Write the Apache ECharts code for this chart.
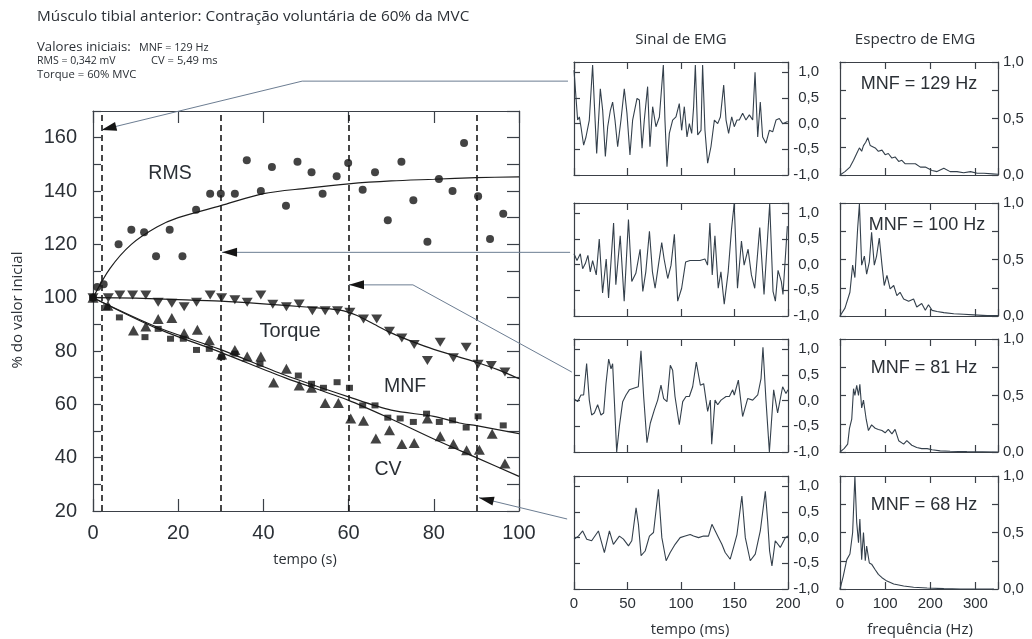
<!DOCTYPE html>
<html><head><meta charset="utf-8">
<script src="https://cdn.jsdelivr.net/npm/echarts/dist/echarts.min.js"></script>
<style>html,body{margin:0;padding:0;background:#fff}#c{width:1032px;height:639px}</style>
</head><body><div id="c"></div><script>
// ---------------- DATA ----------------
const rmsPoints = [[0,100],[1,104],[2.5,105],[6,120],[9,125.5],[12,124.5],[14.8,115.5],[18,125.5],[21,115.5],[24.2,133],[27.5,139],[30,139],[33.3,139],[36.1,151.5],[39.4,140],[42,149],[45.3,134.5],[48,151],[51.3,147],[53.9,139],[57.2,145.5],[59.9,150.5],[63.3,140.5],[66.2,147],[69.2,129],[72.4,151],[75.2,136.5],[78.5,121],[81.2,144.5],[84.4,140],[87.1,158],[90.4,138],[93.2,122],[96.3,131.5]];
const torquePoints = [[0,100],[3.6,100],[6.3,101],[9.3,101],[12.4,101],[15.3,98.3],[18.5,97.9],[21.4,96.6],[24.3,98.3],[27.5,101],[30.2,100],[33.3,99.2],[36.2,98.3],[39.4,101],[42.2,97.5],[45.4,96.6],[48.4,97.6],[51.5,95.1],[54.5,95.1],[57.4,95.1],[60.3,94.5],[63.5,92],[66.6,92],[69.6,87.4],[72.5,84.9],[75.4,82.4],[78.5,76.4],[81.5,83.3],[84.6,77.5],[87.6,81.4],[90.4,75],[93.5,74.6],[96.7,72.1]];
const mnfPoints = [[0,100],[3.2,96.4],[6.2,92.6],[12.2,85.2],[15.3,88.3],[18.2,84.6],[21.2,84.6],[24.3,80.4],[27.3,80.8],[30.2,77.7],[33.3,79],[39.2,75.2],[48.2,70.8],[51.3,67.7],[54.1,66.2],[57.3,68.3],[60.2,66.2],[63.3,59.6],[66.2,59.6],[69.2,55],[72.1,54.7],[75.2,53.4],[78.3,56.5],[81.3,53.4],[84.4,54],[87.6,51.3],[90.4,55.5],[96.3,52.1]];
const cvPoints = [[0,100],[3.5,97],[9.5,87.7],[12.4,89.2],[15.3,92],[18.5,92.4],[21.4,86.7],[24.5,88],[27.3,84],[30.2,78.7],[33.3,80.4],[36.2,77.9],[39.4,77.9],[42.4,68.2],[45.4,73.3],[48.4,67.1],[51.3,66.2],[54.5,60.5],[57.6,60.5],[60.5,54.7],[63.5,53.8],[66.4,47.2],[69.6,50.3],[72.5,45.1],[75.4,45.5],[78.5,54.7],[81.5,48],[84.6,45.1],[87.7,42.8],[90.7,43],[93.7,49],[96.7,37.8]];

const rmsFit = [[0,100],[4,111],[9,120],[15,126.5],[20,130],[30,134.5],[40,139],[50,141],[60,142.7],[70,143.8],[80,144.4],[90,145],[100,145.3]];
const torqueFit = [[0,100],[10,99.8],[20,99.3],[30,98.7],[40,97.7],[50,96.5],[58,95.3],[62,93.3],[66,90],[70,86.8],[75,83.5],[80,80.6],[86,77.7],[90,75.8],[95,73],[100,69.6]];
const mnfFit = [[0,100],[15,89],[30,80.5],[45,71],[60,62.8],[70,57.8],[80,55.5],[86,53],[90,52],[100,49]];
const cvFit = [[0,100],[15,88.5],[30,79.5],[45,70],[60,61.5],[70,54.5],[80,47],[90,40],[100,33]];

const epochMarks = [2, 30, 60, 90];
const xTicksMain = [0, 100, 20];      // min, max, step
const yTicksMain = [20, 170, 10];

const emg1 = [[0,1.04],[3.4,0.07],[5,0.13],[6.5,-0.06],[9,-0.42],[11.2,-0.26],[14.3,0.07],[17.4,1.14],[19,0.39],[21.2,-0.58],[24.6,0.68],[26.8,0.26],[29.3,-0.64],[31.5,-0.06],[34,0.26],[36.1,0.42],[38.3,0.07],[40.8,-0.45],[43.9,0.07],[47,0.68],[49.5,0.2],[52.3,-0.61],[54.8,0.07],[58.9,0.49],[61.1,0.46],[63.6,-0.48],[65.7,0.07],[68.8,0.72],[71,-0.45],[73.5,0.33],[76.6,-0.06],[79.8,0.13],[83.5,1.14],[85,0.07],[86.9,-0.84],[89.1,-0.19],[92.2,0.07],[95.3,0.13],[98.4,0.39],[100.6,-0.13],[103.1,0.33],[105.6,-0.26],[107.8,0],[110,-0.19],[111.8,0.33],[113.4,1.14],[115.6,-0.22],[118.7,-0.13],[120.2,1.14],[122.4,-0.13],[124.9,-0.77],[128,-0.45],[131.2,0.07],[134.3,0],[136.8,0.13],[139.9,0.75],[142.1,0.07],[144.5,-0.19],[147.4,0.13],[149.8,-0.06],[152.3,0.07],[154.5,0.07],[157.6,0.2],[160.7,0.07],[163.9,0.17],[167,0.07],[169.2,1.0],[171.7,-0.26],[174.1,0.42],[176.3,-0.26],[179.4,-0.38],[182.6,-0.13],[185.7,-0.16],[188.8,0.07],[191.9,0.1],[195,0],[199.7,0.04]];
const emg2 = [[0,0.21],[2.8,0.08],[5.9,0.21],[8.1,-0.08],[10.6,0.02],[13,0.18],[15.2,-0.14],[17.4,0.08],[20.8,-0.2],[23.6,0.5],[26.7,-0.55],[30.1,0.11],[32.3,-0.65],[37,0.81],[39.1,-0.39],[43.2,0.56],[46.9,-0.71],[50.9,0.88],[54,-0.33],[57.8,-0.17],[61.8,0.3],[64.3,-0.52],[67.1,-0.14],[70.5,0.65],[73.3,-0.14],[75.8,-0.46],[78.9,-0.01],[82,0.43],[84.2,0.11],[87.6,-0.27],[90.7,-0.01],[93.8,0.59],[96.9,-0.71],[100.6,-0.46],[104.3,0.05],[108.4,0.08],[113,0.08],[117.7,0.08],[122.4,0.11],[124.8,-0.01],[127,0.81],[129.2,-0.2],[131.7,0.56],[134.8,-0.46],[137.3,-0.14],[140.4,-0.77],[144.1,-0.14],[147.2,0.69],[149.7,1.19],[152.8,-0.46],[156.5,0.46],[159,-0.01],[162.7,0.3],[165.8,-0.2],[168.9,-0.46],[173.6,0.72],[177.6,-0.58],[182.9,1.19],[186,-0.52],[188.2,-0.71],[190.7,-0.11],[193.8,-0.33],[195.3,-0.58],[199.4,0.75]];
const emg3 = [[0,0.04],[3.4,-0.02],[6.5,0.11],[9,0.11],[11.8,0.72],[14.3,0.01],[16.5,-0.28],[19,-0.24],[22.1,-0.08],[25.2,-0.28],[27.7,-0.24],[29.9,0.33],[32.4,0.81],[34.6,0.62],[36.1,0.72],[37.7,0.01],[39.9,-1.0],[42.4,-0.5],[45.5,-0.02],[48.6,0.11],[51.7,0.21],[55.8,0.24],[60.1,0.27],[62.6,0.97],[65.1,0.08],[68.2,-0.82],[71.3,-0.44],[75.1,-0.18],[78.2,0.01],[81.3,0.3],[83.8,0.04],[86.9,-0.02],[90,0.69],[92.2,0.59],[94.4,0.08],[98.4,-0.47],[101.6,-0.02],[104.7,0.08],[107.8,0.08],[110.9,0.27],[114.3,0.75],[118.1,0.3],[121.2,0.33],[124.9,-0.21],[127.4,0.01],[128.7,-0.85],[131.8,0.01],[134.3,-0.08],[137.4,0.01],[142.1,0.08],[145.2,0.08],[148.3,0.21],[149.8,0.11],[153.6,0.4],[157.6,-0.31],[162.3,0.04],[167,0.01],[171.7,0.11],[174.8,0.43],[176.6,1.04],[179.4,0.01],[182.6,-1.0],[186.6,0.21],[190.3,-0.24],[195,0.27],[198.1,0.14],[200,0.21]];
const emg4 = [[0,-0.03],[4.1,0.03],[8.1,0.13],[11.9,-0.03],[16.5,-0.06],[22.8,0.13],[28.4,-0.29],[33.1,0.13],[36.8,-0.13],[42.4,0.03],[46.2,-0.03],[50.9,-0.16],[54,-0.06],[58,0.58],[60.2,0.26],[62.7,-0.35],[66.5,-0.26],[70.5,0.03],[74.3,0.1],[78.9,0.94],[82.1,0],[86.1,-0.45],[89.9,-0.29],[94.5,-0.13],[99.2,0],[103.9,0.03],[108.6,0.06],[111.7,0.03],[116.4,0],[121.1,0.03],[125.7,0.03],[128.9,0.26],[132,0.13],[135.1,0],[138.2,-0.13],[141.3,-0.29],[146,-0.42],[149.1,-0.19],[152.3,0.06],[156.9,0.81],[160.1,0],[164.7,-0.45],[169.4,-0.32],[174.1,0.13],[178.8,0.9],[181,0.32],[182.8,-0.26],[185,-0.55],[188.1,-0.06],[192.8,-0.19],[197.5,0],[200,0.03]];

const spec1 = [[0,0],[11,0.03],[22,0.07],[30,0.13],[37,0.19],[43,0.24],[48,0.21],[52,0.26],[57,0.29],[61.5,0.33],[67,0.26],[70,0.25],[78,0.24],[85,0.21],[93,0.22],[100,0.18],[107,0.19],[115,0.15],[122,0.16],[130,0.12],[137,0.13],[144,0.1],[156,0.1],[167,0.1],[178,0.07],[189,0.07],[204,0.04],[215,0.03],[230,0.06],[244,0.03],[259,0.03],[274,0.02],[289,0.03],[304,0.015],[319,0.015],[337,0.01],[350,0.006]];
const spec2 = [[0,0],[11,0.07],[22,0.21],[28,0.45],[33,0.34],[39,0.77],[43,0.99],[48,0.45],[54,0.53],[59,0.37],[65,0.48],[70,0.74],[76,0.45],[81,0.53],[87,0.69],[93,0.45],[98,0.27],[104,0.36],[111,0.24],[119,0.27],[126,0.18],[133,0.21],[141,0.15],[152,0.13],[163,0.15],[170,0.08],[181,0.11],[189,0.05],[196,0.1],[204,0.05],[215,0.04],[230,0.03],[252,0.02],[274,0.015],[296,0.01],[326,0.003],[350,0.003]];
const spec3 = [[0,0],[9,0.03],[17,0.07],[21,0.21],[26,0.29],[30,0.56],[33,0.5],[37,0.59],[41,0.5],[44,0.6],[48,0.39],[52,0.46],[58,0.29],[63,0.19],[70,0.24],[78,0.21],[85,0.2],[93,0.19],[100,0.17],[107,0.2],[115,0.16],[122,0.2],[130,0.1],[141,0.07],[148,0.1],[159,0.06],[170,0.04],[181,0.03],[193,0.03],[204,0.02],[222,0.01],[244,0.006],[281,0.003],[350,0]];
const spec4 = [[0,0],[7,0.11],[15,0.26],[22,0.31],[28,0.5],[33,1.0],[37,0.59],[41,0.41],[44,0.62],[48,0.26],[52,0.5],[56,0.25],[59,0.38],[65,0.23],[70,0.22],[78,0.17],[85,0.13],[93,0.1],[104,0.07],[119,0.045],[141,0.027],[163,0.015],[193,0.009],[230,0.003],[267,0],[341,0]];

const emgSignals = [emg1, emg2, emg3, emg4];
const spectra = [spec1, spec2, spec3, spec4];
const spectrumLabels = ['MNF = 129 Hz', 'MNF = 100 Hz', 'MNF = 81 Hz', 'MNF = 68 Hz'];

// leader arrows, in main-chart data units (first point = arrow tip; tails extend out of the plot)
const arrowPaths = [
  [[2.0,162.9],[49.1,181.2],[111.5,181.2]],
  [[30.3,117.0],[112.0,117.0]],
  [[60.1,104.8],[75.1,104.8],[112.4,72.1]],
  [[90.6,25.0],[111.3,17.0]]
];

// ---------------- STYLE / LAYOUT ----------------
const LC = '#3b4047';
const TXT = '#2b3036';
const SIG = '#34404c';
const ARW = '#6c7d92';
const TICKFONT = "'Liberation Sans', Arial, sans-serif";
const TEXTFONT = "'Open Sans', 'Noto Sans', sans-serif";
const panelTops = [62, 203, 339, 476];
const panelH = 113;

const comma = v => v.toFixed(1).replace('.', ',');
const grids = [], xAxes = [], yAxes = [], series = [];
function addGrid(g) { grids.push(Object.assign({ containLabel: false, outerBoundsMode: 'none', show: false }, g)); return grids.length - 1; }
function axis(gridIndex, position, min, max, interval, tickLen, label) {
  return {
    type: 'value', gridIndex, position, min, max, interval,
    splitLine: { show: false },
    axisLine: { show: true, onZero: false, lineStyle: { color: LC, width: 1.2 } },
    axisTick: { show: true, inside: true, length: tickLen, lineStyle: { color: LC, width: 1.2 } },
    axisLabel: label || { show: false }
  };
}

// main plot
const gm = addGrid({ left: 93, top: 111, width: 426, height: 400 });
xAxes.push(axis(gm, 'bottom', xTicksMain[0], xTicksMain[1], xTicksMain[2], 12,
  { show: true, fontSize: 20, color: TXT, fontFamily: TICKFONT, margin: 12 }));
xAxes.push(axis(gm, 'top', xTicksMain[0], xTicksMain[1], xTicksMain[2], 12));
yAxes.push(axis(gm, 'left', yTicksMain[0], yTicksMain[1], yTicksMain[2], 8,
  { show: true, fontSize: 20, color: TXT, fontFamily: TICKFONT, margin: 16, formatter: v => (v % 20 === 0 ? String(v) : '') }));
yAxes.push(axis(gm, 'right', yTicksMain[0], yTicksMain[1], yTicksMain[2], 12));

const markerBase = { type: 'scatter', xAxisIndex: 0, yAxisIndex: 0, silent: true, itemStyle: { color: '#141414' }, z: 4 };
series.push(Object.assign({}, markerBase, { name: 'RMS', data: rmsPoints, symbol: 'circle', symbolSize: 8,
  markLine: { silent: true, symbol: ['none', 'none'], label: { show: false },
    lineStyle: { color: '#1a1a1a', width: 1.6, type: [6, 4] }, data: epochMarks.map(x => ({ xAxis: x })) } }));
series.push(Object.assign({}, markerBase, { name: 'Torque', data: torquePoints, symbol: 'triangle', symbolRotate: 180, symbolSize: [11, 9] }));
series.push(Object.assign({}, markerBase, { name: 'MNF', data: mnfPoints, symbol: 'rect', symbolSize: [7, 6] }));
series.push(Object.assign({}, markerBase, { name: 'CV', data: cvPoints, symbol: 'triangle', symbolSize: [11, 10] }));
[rmsFit, torqueFit, mnfFit, cvFit].forEach(f => series.push({
  type: 'line', xAxisIndex: 0, yAxisIndex: 0, data: f, smooth: 0.3, symbol: 'none', silent: true,
  lineStyle: { color: '#1e1e1e', width: 1.2 }, z: 3
}));

// EMG signal panels and spectra
emgSignals.forEach((sig, i) => {
  const g = addGrid({ left: 574, top: panelTops[i], width: 214, height: panelH });
  const xi = xAxes.length;
  xAxes.push(axis(g, 'bottom', 0, 200, 50, 7, i === 3 ? { show: true, fontSize: 15, color: TXT, fontFamily: TICKFONT, margin: 7 } : null));
  xAxes.push(axis(g, 'top', 0, 200, 50, 7));
  const yi = yAxes.length;
  yAxes.push(axis(g, 'right', -1, 1.2, 0.5, 6, { show: true, fontSize: 15, color: TXT, fontFamily: TICKFONT, align: 'right', margin: 31,
    formatter: v => (Math.abs(v * 2 - Math.round(v * 2)) < 1e-6 ? comma(v) : '') }));
  yAxes.push(axis(g, 'left', -1, 1.2, 0.5, 6));
  series.push({ type: 'line', xAxisIndex: xi, yAxisIndex: yi, data: sig, symbol: 'none', silent: true, lineStyle: { color: SIG, width: 1.1 } });
});
spectra.forEach((sp, i) => {
  const g = addGrid({ left: 840, top: panelTops[i], width: 158, height: panelH });
  const xi = xAxes.length;
  xAxes.push(axis(g, 'bottom', 0, 350, 100, 7, i === 3 ? { show: true, fontSize: 15, color: TXT, fontFamily: TICKFONT, margin: 7,
    formatter: v => (v % 100 === 0 ? String(v) : '') } : null));
  xAxes.push(axis(g, 'top', 0, 350, 100, 7));
  const yi = yAxes.length;
  yAxes.push(axis(g, 'right', 0, 1, 0.25, 6, { show: true, fontSize: 15, color: TXT, fontFamily: TICKFONT, margin: 5,
    formatter: v => (Math.abs(v * 2 - Math.round(v * 2)) < 1e-6 ? comma(v) : '') }));
  yAxes.push(axis(g, 'left', 0, 1, 0.25, 6));
  series.push({ type: 'line', xAxisIndex: xi, yAxisIndex: yi, data: sp, symbol: 'none', silent: true, lineStyle: { color: SIG, width: 1.1 } });
});

// ---------------- TEXT ----------------
function txt(text, x, y, size, opts) {
  opts = opts || {};
  return { type: 'text', x, y, rotation: opts.rot || 0, silent: true, z: 10,
    style: { text, fontSize: size, fontFamily: opts.font || TEXTFONT, fill: TXT,
      align: opts.align || 'left', verticalAlign: 'middle', textAlign: opts.align || 'left', textVerticalAlign: 'middle' } };
}
const graphics = [
  txt('Músculo tibial anterior: Contração voluntária de 60% da MVC', 37, 17, 15.3),
  txt('Valores iniciais:', 37, 47, 13.2),
  txt('MNF = 129 Hz', 139, 48, 10.8),
  txt('RMS = 0,342 mV', 37, 61, 10.5),
  txt('CV = 5,49 ms', 151, 61, 11.2),
  txt('Torque = 60% MVC', 37, 75, 11.3),
  txt('Sinal de EMG', 681, 40, 15, { align: 'center' }),
  txt('Espectro de EMG', 915, 40, 15.2, { align: 'center' }),
  txt('tempo (ms)', 690, 630, 14.8, { align: 'center' }),
  txt('frequência (Hz)', 920, 630, 15, { align: 'center' }),
  txt('tempo (s)', 305, 560, 14.5, { align: 'center' }),
  txt('% do valor inicial', 18, 310, 15, { align: 'center', rot: Math.PI / 2 }),
  txt('RMS', 170, 174, 19.5, { align: 'center', font: TICKFONT }),
  txt('Torque', 290, 331, 20, { align: 'center', font: TICKFONT }),
  txt('MNF', 405, 387, 19.5, { align: 'center', font: TICKFONT }),
  txt('CV', 388, 470, 19.5, { align: 'center', font: TICKFONT })
];
const specLabelPos = [[919, 84], [927, 225], [924, 368], [924, 505]];
spectrumLabels.forEach((s, i) => graphics.push(txt(s, specLabelPos[i][0], specLabelPos[i][1], 18, { align: 'center', font: TICKFONT })));

const chart = echarts.init(document.getElementById('c'), null, { renderer: 'canvas' });
chart.setOption({
  backgroundColor: '#fff', animation: false,
  grid: grids, xAxis: xAxes, yAxis: yAxes, series, graphic: graphics
});

// leader arrows: positions come from the main chart's scales (linear extension beyond the plot)
const c0 = chart.convertToPixel({ xAxisIndex: 0, yAxisIndex: 0 }, [0, 20]);
const c1 = chart.convertToPixel({ xAxisIndex: 0, yAxisIndex: 0 }, [100, 170]);
const toPx = (p) => [c0[0] + p[0] * (c1[0] - c0[0]) / 100, c0[1] + (p[1] - 20) * (c1[1] - c0[1]) / 150];
const arrowGraphics = [];
arrowPaths.forEach(path => {
  const pts = path.map(toPx);
  arrowGraphics.push({ type: 'polyline', silent: true, z: 8, shape: { points: pts }, style: { stroke: ARW, lineWidth: 1, fill: null } });
  const tip = pts[0], nx = pts[1][0] - tip[0], ny = pts[1][1] - tip[1];
  const L = Math.hypot(nx, ny), ux = nx / L, uy = ny / L;
  const bx = tip[0] + ux * 15, by = tip[1] + uy * 15;
  arrowGraphics.push({ type: 'polygon', silent: true, z: 9,
    shape: { points: [tip, [bx - uy * 4.5, by + ux * 4.5], [bx + uy * 4.5, by - ux * 4.5]] }, style: { fill: '#151515' } });
});
chart.setOption({ graphic: graphics.concat(arrowGraphics) });
</script></body></html>
